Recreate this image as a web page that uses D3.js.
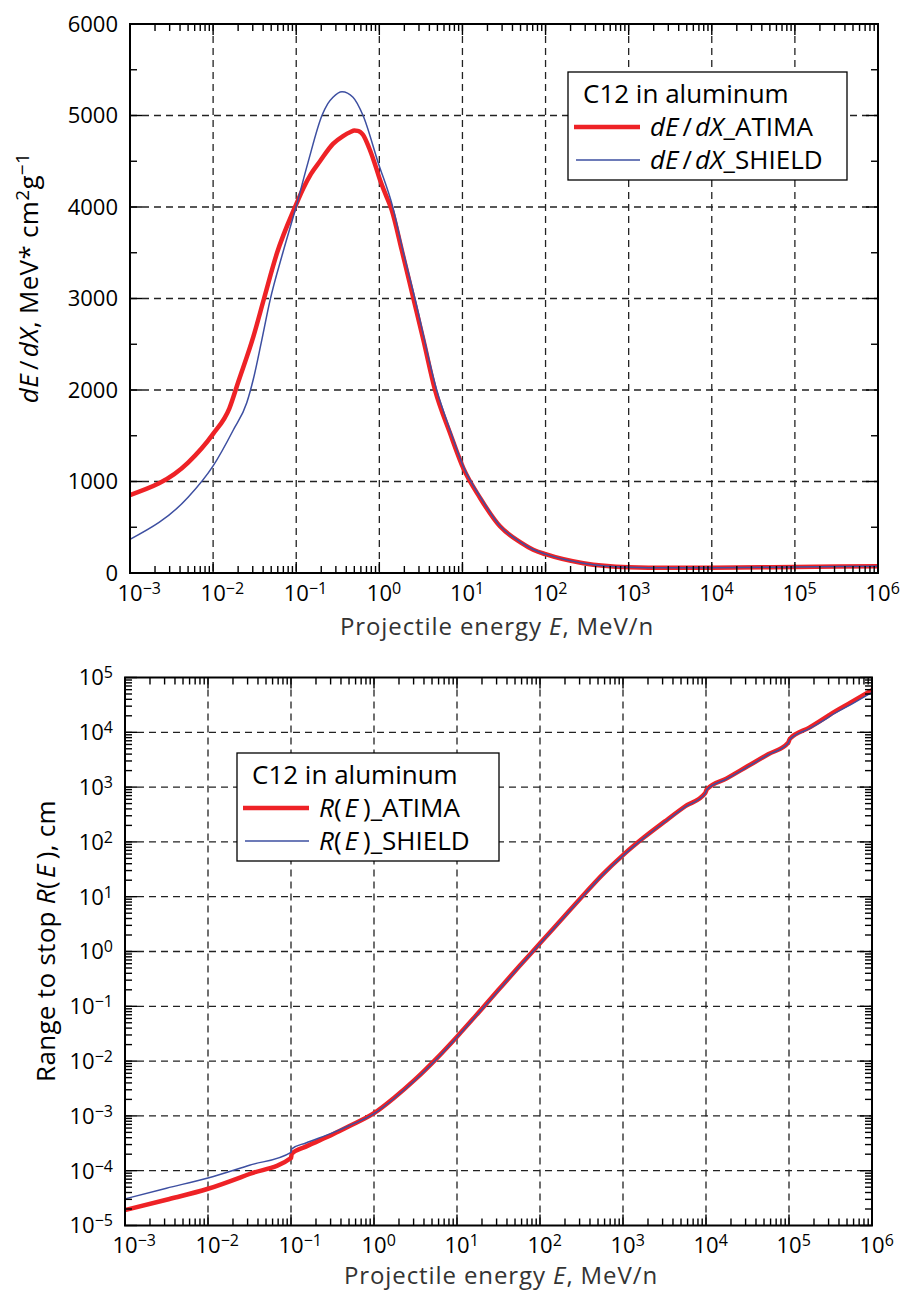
<!DOCTYPE html>
<html>
<head>
<meta charset="utf-8">
<script src="https://cdn.jsdelivr.net/npm/d3@7"></script>
<style>
body { margin: 0; background: #fff; }
svg { display: block; font-family: "Open Sans", sans-serif; }
</style>
</head>
<body>
<svg id="chart" width="903" height="1292"></svg>
<script>
(function() {
    'use strict';

    // energy decades, MeV/n
    var energyTicks = [1e-3, 1e-2, 1e-1, 1e0, 1e1, 1e2, 1e3, 1e4, 1e5, 1e6];
    var energyExp = [-3, -2, -1, 0, 1, 2, 3, 4, 5, 6];
    var dedxTicks = [0, 1000, 2000, 3000, 4000, 5000, 6000];
    var rangeTicks = [1e-5, 1e-4, 1e-3, 1e-2, 1e-1, 1e0, 1e1, 1e2, 1e3, 1e4, 1e5];
    var rangeExp = [-5, -4, -3, -2, -1, 0, 1, 2, 3, 4, 5];

    // dE/dX, MeV cm2/g
    var dedxAtimaE = [0.001, 0.005, 0.01, 0.0157, 0.0201, 0.0305, 0.041, 0.0587, 0.0968, 0.121, 0.15, 0.193,
        0.277, 0.366, 0.45, 0.5, 0.55, 0.636, 0.75, 0.87, 1.02, 1.2, 1.41, 1.86, 2.57, 3.39, 4.68, 7.1,
        10.3, 16.3, 28.3, 50, 71, 100, 285, 1000, 3000, 1e4, 1e5, 1e6];
    var dedxAtima = [852, 1206, 1520, 1800, 2090, 2583, 3000, 3497, 4000, 4200, 4360, 4500,
        4690, 4775, 4820, 4835, 4832, 4790, 4650, 4490, 4295, 4130, 3967, 3530, 3000, 2546, 2000, 1527,
        1140, 820, 510, 335, 255, 205, 106, 63, 57, 58, 66, 74];
    var dedxShieldE = [0.001, 0.005, 0.01, 0.0175, 0.0254, 0.0305, 0.038, 0.0484, 0.069, 0.0995, 0.139, 0.204,
        0.24, 0.277, 0.356, 0.482, 0.637, 0.964, 1.45, 1.95, 2.68, 4.9, 7.1, 10.3, 16.3, 28.3, 50, 71,
        100, 285, 1000, 3000, 1e4, 1e5, 1e6];
    var dedxShield = [368, 827, 1170, 1563, 1860, 2120, 2520, 2980, 3500, 4000, 4490, 5000,
        5130, 5200, 5260, 5200, 5000, 4490, 4000, 3500, 3000, 2000, 1560, 1160, 835, 515, 338, 257,
        206, 107, 63, 57, 58, 66, 74];

    // range to stop, cm
    var rangeE = [0.001, 0.00316, 0.01, 0.0316, 0.1, 0.102, 0.151, 0.316, 0.5, 1, 1.78, 3.16, 5.62, 10,
        17.8, 31.6, 56.2, 100, 178, 316, 562, 1000, 1778, 3162, 5623, 9772, 10233, 17783, 31623, 56234,
        97724, 102329, 177828, 295121, 309030, 562341, 1e6];
    var rangeAtima = [1.91e-5, 2.95e-5, 4.68e-5, 8.71e-5, 1.70e-4, 2.04e-4, 2.75e-4, 4.57e-4, 6.46e-4, 1.12e-3,
        2.19e-3, 4.68e-3, 1.10e-2, 2.79e-2, 7.41e-2, 0.2, 0.537, 1.41, 3.72, 9.77, 25.1, 57.5, 120, 234,
        447, 776, 912, 1445, 2399, 3981, 6457, 7586, 12303, 19953, 20893, 35481, 58884];
    var rangeShield = [3.06e-5, 4.79e-5, 7.38e-5, 1.26e-4, 2.17e-4, 2.51e-4, 3.21e-4, 4.90e-4, 6.61e-4, 1.10e-3,
        2.14e-3, 4.57e-3, 1.07e-2, 2.72e-2, 7.24e-2, 0.195, 0.525, 1.38, 3.63, 9.55, 24.5, 56.2, 117, 229,
        437, 759, 891, 1413, 2344, 3890, 6310, 7413, 11749, 18621, 19498, 32359, 53703];

    var RED = '#ee2226', BLUE = '#3d4fa1';
    var svg = d3.select('#chart');

    function pow10(sel, e) {
        sel.append('tspan').text('10');
        sel.append('tspan').attr('dy', -7).attr('font-size', 16)
            .text(e < 0 ? '\u2212' + (-e) : String(e));
    }

    function minorLog(domain) {
        var out = [];
        var a = Math.round(Math.log10(domain[0])), b = Math.round(Math.log10(domain[1]));
        for (var p = a; p < b; p++) {
            for (var k = 2; k <= 9; k++) out.push(k * Math.pow(10, p));
        }
        return out;
    }

    function drawPanel(o) {
        var g = svg.append('g');
        var x = d3.scaleLog().domain([1e-3, 1e6]).range([o.left, o.right]);
        var y = o.y;

        // grid
        g.selectAll('.vgrid').data(energyTicks.slice(1, -1)).enter().append('line')
            .attr('x1', function(d) { return x(d); }).attr('x2', function(d) { return x(d); })
            .attr('y1', o.top).attr('y2', o.bottom)
            .attr('stroke', '#222').attr('stroke-width', 1.3).attr('stroke-dasharray', '7,5');
        g.selectAll('.hgrid').data(o.yTicks.slice(1, -1)).enter().append('line')
            .attr('y1', function(d) { return y(d); }).attr('y2', function(d) { return y(d); })
            .attr('x1', o.left).attr('x2', o.right)
            .attr('stroke', '#222').attr('stroke-width', 1.3).attr('stroke-dasharray', '7,5');

        // curves
        var line = d3.line()
            .x(function(d) { return x(d[0]); })
            .y(function(d) { return y(d[1]); })
            .curve(d3.curveMonotoneX);
        g.append('path').attr('d', line(d3.zip(o.redE, o.redV)))
            .attr('fill', 'none').attr('stroke', RED).attr('stroke-width', 4.5).attr('stroke-linejoin', 'round');
        g.append('path').attr('d', line(d3.zip(o.blueE, o.blueV)))
            .attr('fill', 'none').attr('stroke', BLUE).attr('stroke-width', 1.5);

        // frame
        g.append('rect').attr('x', o.left).attr('y', o.top)
            .attr('width', o.right - o.left).attr('height', o.bottom - o.top)
            .attr('fill', 'none').attr('stroke', '#000').attr('stroke-width', 2);

        // x ticks, inward on bottom and top
        var xt = energyTicks.map(function(d) { return [d, 11]; })
            .concat(minorLog([1e-3, 1e6]).map(function(d) { return [d, 7]; }));
        g.selectAll('.xtb').data(xt).enter().append('line')
            .attr('x1', function(d) { return x(d[0]); }).attr('x2', function(d) { return x(d[0]); })
            .attr('y1', o.bottom).attr('y2', function(d) { return o.bottom - d[1]; })
            .attr('stroke', '#000').attr('stroke-width', 1.4);
        g.selectAll('.xtt').data(xt).enter().append('line')
            .attr('x1', function(d) { return x(d[0]); }).attr('x2', function(d) { return x(d[0]); })
            .attr('y1', o.top).attr('y2', function(d) { return o.top + d[1]; })
            .attr('stroke', '#000').attr('stroke-width', 1.4);

        // y ticks, inward on left and right
        var yt = o.yTicks.map(function(d) { return [d, 12]; })
            .concat(o.yMinor.map(function(d) { return [d, 7]; }));
        g.selectAll('.ytl').data(yt).enter().append('line')
            .attr('y1', function(d) { return y(d[0]); }).attr('y2', function(d) { return y(d[0]); })
            .attr('x1', o.left).attr('x2', function(d) { return o.left + d[1]; })
            .attr('stroke', '#000').attr('stroke-width', 1.4);
        g.selectAll('.ytr').data(yt).enter().append('line')
            .attr('y1', function(d) { return y(d[0]); }).attr('y2', function(d) { return y(d[0]); })
            .attr('x1', o.right).attr('x2', function(d) { return o.right - d[1]; })
            .attr('stroke', '#000').attr('stroke-width', 1.4);

        // tick labels
        energyTicks.forEach(function(d, i) {
            var t = g.append('text').attr('x', x(d) - 12.5).attr('y', o.bottom + 27.5)
                .attr('font-size', 22).attr('fill', '#000');
            pow10(t, energyExp[i]);
        });
        o.yTicks.forEach(function(d, i) {
            var t = g.append('text').attr('x', o.left - 12).attr('y', y(d)).attr('dy', '0.36em')
                .attr('text-anchor', 'end').attr('font-size', 22).attr('fill', '#000');
            if (o.yExp) pow10(t, o.yExp[i]); else t.text(d);
        });

        // axis titles
        var xtitle = g.append('text').attr('x', o.xTitleX).attr('y', o.xTitleY)
            .attr('text-anchor', 'middle').attr('font-size', 24).attr('letter-spacing', 0.9)
            .attr('fill', '#333');
        xtitle.append('tspan').text('Projectile energy ');
        xtitle.append('tspan').attr('font-style', 'italic').text('E');
        xtitle.append('tspan').text(', MeV/n');

        var ytitle = g.append('text')
            .attr('transform', 'translate(' + o.yTitleX + ',' + o.yTitleY + ') rotate(-90)')
            .attr('text-anchor', 'middle').attr('font-size', 26).attr('letter-spacing', 0.3)
            .attr('fill', '#000');
        o.yTitle(ytitle);

        // legend
        var lg = g.append('g').attr('transform', 'translate(' + o.legX + ',' + o.legY + ')');
        lg.append('rect').attr('width', o.legW).attr('height', 108)
            .attr('fill', '#fff').attr('stroke', '#000').attr('stroke-width', 1.3);
        lg.append('text').attr('x', 15).attr('y', 31).attr('font-size', 26).text('C12 in aluminum');
        lg.append('line').attr('x1', 6).attr('x2', 72).attr('y1', 55).attr('y2', 55)
            .attr('stroke', RED).attr('stroke-width', 4.5);
        lg.append('line').attr('x1', 8).attr('x2', 72).attr('y1', 88).attr('y2', 88)
            .attr('stroke', BLUE).attr('stroke-width', 1.5);
        o.legLabel(lg.append('text').attr('x', 82).attr('y', 64).attr('font-size', 26), '_ATIMA');
        o.legLabel(lg.append('text').attr('x', 82).attr('y', 97).attr('font-size', 26), '_SHIELD');
    }

    function dedxLabel(t, suffix) {
        t.append('tspan').attr('font-style', 'italic').text('dE');
        t.append('tspan').attr('dx', 4).text('/');
        t.append('tspan').attr('dx', 3).attr('font-style', 'italic').text('dX');
        if (suffix) t.append('tspan').text(suffix);
        return t;
    }

    function rangeLabel(t, suffix) {
        t.append('tspan').attr('font-style', 'italic').text('R');
        t.append('tspan').text('(');
        t.append('tspan').attr('dx', 3).attr('font-style', 'italic').text('E');
        t.append('tspan').attr('dx', 5).text(')');
        if (suffix) t.append('tspan').text(suffix);
        return t;
    }

    drawPanel({
        left: 130, right: 878, top: 24, bottom: 573,
        y: d3.scaleLinear().domain([0, 6000]).range([573, 24]),
        yTicks: dedxTicks,
        yMinor: [500, 1500, 2500, 3500, 4500, 5500],
        redE: dedxAtimaE, redV: dedxAtima,
        blueE: dedxShieldE, blueV: dedxShield,
        xTitleX: 497, xTitleY: 635, yTitleX: 38, yTitleY: 278,
        yTitle: function(t) {
            dedxLabel(t, ', MeV* cm');
            t.append('tspan').attr('dy', -9).attr('font-size', 19).text('2');
            t.append('tspan').attr('dy', 9).text('g');
            t.append('tspan').attr('dy', -9).attr('font-size', 19).text('\u22121');
        },
        legX: 568, legY: 72, legW: 279,
        legLabel: dedxLabel
    });

    drawPanel({
        left: 125, right: 872, top: 677.5, bottom: 1225.5,
        y: d3.scaleLog().domain([1e-5, 1e5]).range([1225.5, 677.5]),
        yTicks: rangeTicks, yExp: rangeExp,
        yMinor: minorLog([1e-5, 1e5]),
        redE: rangeE, redV: rangeAtima,
        blueE: rangeE, blueV: rangeShield,
        xTitleX: 501, xTitleY: 1284, yTitleX: 55, yTitleY: 941,
        yTitle: function(t) {
            t.append('tspan').text('Range to stop ');
            rangeLabel(t, ', cm');
        },
        legX: 237, legY: 753, legW: 262,
        legLabel: rangeLabel
    });
})();
</script>
</body>
</html>
